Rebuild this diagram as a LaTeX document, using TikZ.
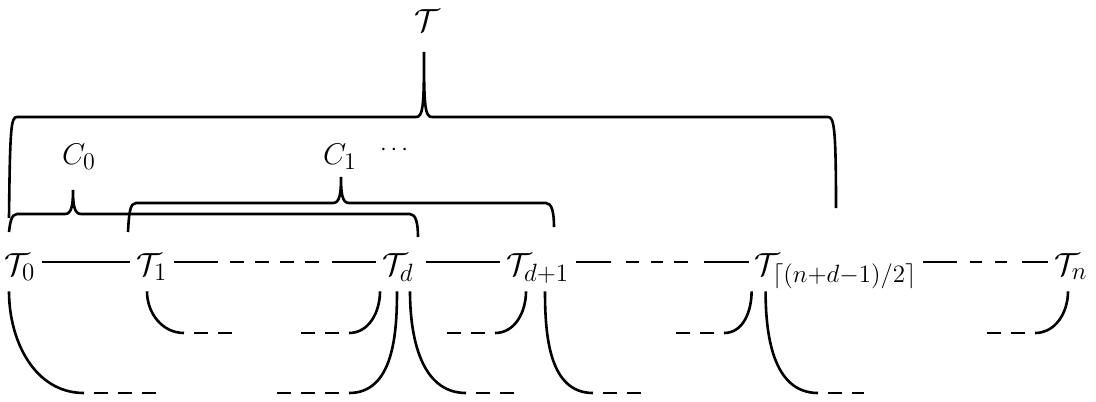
\documentclass[tikz,border=0pt]{standalone}
\usepackage{fix-cm}
\usepackage{amsmath}
\usepackage{tikz}
\usetikzlibrary{calc}
\DeclareMathSizes{16}{16}{12.5}{10}
\DeclareMathSizes{15}{15}{12}{9}

% chave: x_esq, y_esq, x_dir, y_dir, y_linha, x_ponta, y_ponta
\newcommand{\chave}[7]{%
  \draw (#1,#2) .. controls (#1+1,#5+10) and (#1+2,#5) .. (#1+8,#5)
        -- (#6-8,#5) .. controls (#6-1,#5) and (#6,#5-10) .. (#6,#7)
        .. controls (#6,#5-10) and (#6+1,#5) .. (#6+8,#5)
        -- (#3-8,#5) .. controls (#3-2,#5) and (#3,#5+10) .. (#3,#4);}

\begin{document}
\begin{tikzpicture}[x=0.5pt, y=-0.5pt, line width=1.3pt,
    arv/.style={inner sep=2.5pt, text height=18pt, text depth=5pt,
                anchor=base, font=\fontsize{16}{19}\selectfont},
    rot/.style={anchor=base, inner sep=1pt, font=\fontsize{15}{18}\selectfont},
    tracos/.style={dash pattern=on 7pt off 5pt, dash phase=7pt}]
    \useasboundingbox (0,0) rectangle (1096,401);

    % --- Chaves de cima ---
    \chave{9}{218}{836}{208}{117}{424}{52}   % T
    \chave{128}{232}{554}{227}{203}{341}{177} % C_1
    \chave{9}{232}{418}{237}{214}{73}{190}    % C_0
    \node[rot, inner sep=0pt, font=\fontsize{16}{19}\selectfont] (T) at (427,32) {$\mathcal{T}$};
    \node[rot] (C0) at (79,164) {$C_0$};
    \node[rot] (C1) at (340,164) {$C_1$};
    \node[font=\fontsize{12}{14}\selectfont, inner sep=1pt] (pts) at (396,150) {$\cdots$};

    % --- Arvores ---
    \node[arv] (T0)  at (20,275)   {$\mathcal{T}_0$};
    \node[arv] (T1)  at (152,275)  {$\mathcal{T}_1$};
    \node[arv] (Td)  at (398,275)  {$\mathcal{T}_d$};
    \node[arv] (Td1) at (538,275)  {$\mathcal{T}_{d+1}$};
    \node[arv] (Tm)  at (836,275)  {$\mathcal{T}_{\lceil (n+d-1)/2\rceil}$};
    \node[arv] (Tn)  at (1071,275) {$\mathcal{T}_n$};

    % --- Caminho principal ---
    \draw (T0.east) -- (T1.west);
    \draw[dash pattern=on 22pt off 6pt on 7pt off 5.5pt on 7pt off 5.5pt
          on 7pt off 5.5pt on 7pt off 6.5pt on 60pt] (T1.east) -- (Td.west);
    \draw ([xshift=3pt]Td.east) -- (Td1.west);
    \draw[dash pattern=on 17.5pt off 7.5pt on 6.5pt off 6pt on 6pt off 5.5pt
          on 7pt off 8pt on 60pt] (Td1.east) -- (Tm.west);
    \draw[dash pattern=on 17pt off 6.5pt on 6pt off 6.5pt on 6pt off 7.5pt
          on 60pt] (Tm.east) -- (Tn.west);

    % --- Arcos de baixo (pontas) ---
    \coordinate (a0) at (84,393);   \coordinate (a0e) at (160,393);
    \coordinate (a1) at (184,333);  \coordinate (a1e) at (233,333);
    \coordinate (b1) at (349,333);  \coordinate (b1e) at (293,333);
    \coordinate (b2) at (349,393);  \coordinate (b2e) at (268,393);
    \coordinate (a2) at (466,393);  \coordinate (a2e) at (523,393);
    \coordinate (b3) at (495,333);  \coordinate (b3e) at (444,333);
    \coordinate (a3) at (593,393);  \coordinate (a3e) at (641,393);
    \coordinate (b4) at (724,333);  \coordinate (b4e) at (675,333);
    \coordinate (a4) at (818,393);  \coordinate (a4e) at (864,393);
    \coordinate (b5) at (1035,333); \coordinate (b5e) at (985,333);

    % saindo para a direita
    \draw ([xshift=-5.5pt]T0.south) to[out=-90, in=180] (a0);
    \draw[tracos] (a0) -- (a0e);
    \draw ([xshift=-2.5pt]T1.south) to[out=-90, in=180] (a1);
    \draw[tracos] (a1) -- (a1e);
    \draw ([xshift=6pt]Td.south) to[out=-90, in=180] (a2);
    \draw[tracos] (a2) -- (a2e);
    \draw ([xshift=3.5pt]Td1.south) to[out=-90, in=180] (a3);
    \draw[tracos] (a3) -- (a3e);
    \draw ([xshift=8.5pt]Tm.south west) to[out=-90, in=180] (a4);
    \draw[tracos] (a4) -- (a4e);
    % chegando pela esquerda
    \draw ([xshift=-9pt]Td.south) to[out=-90, in=0] (b1);
    \draw[tracos] (b1) -- (b1e);
    \draw ([xshift=-0.5pt]Td.south) to[out=-90, in=0] (b2);
    \draw[tracos] (b2) -- (b2e);
    \draw ([xshift=-6pt]Td1.south) to[out=-90, in=0] (b3);
    \draw[tracos] (b3) -- (b3e);
    \draw ([xshift=1.5pt]Tm.south west) to[out=-90, in=0] (b4);
    \draw[tracos] (b4) -- (b4e);
    \draw ([xshift=-1.5pt]Tn.south) to[out=-90, in=0] (b5);
    \draw[tracos] (b5) -- (b5e);
\end{tikzpicture}
\end{document}
